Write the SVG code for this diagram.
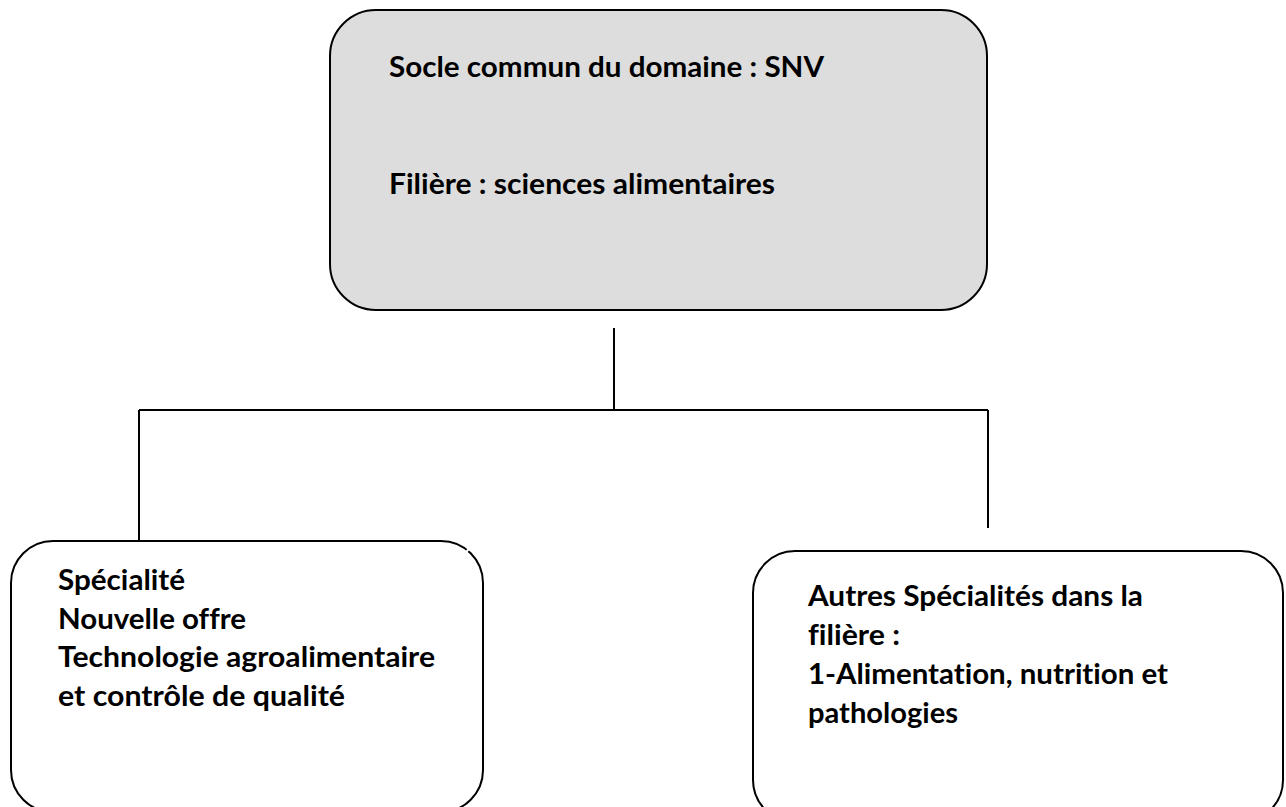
<svg xmlns="http://www.w3.org/2000/svg" width="1286" height="807" viewBox="0 0 1286 807">
<style>
.box{stroke:#000;stroke-width:2}
.t{font-family:Lato,"Open Sans","Liberation Sans",sans-serif;font-weight:700;font-size:28.5px;fill:#000;font-variant-ligatures:none}
.c{stroke:#000;stroke-width:2;fill:none}
</style>
<rect width="1286" height="807" fill="#fff"/>
<g id="connectors">
<line class="c" x1="614" y1="328" x2="614" y2="410"/>
<line class="c" x1="139" y1="410" x2="988" y2="410"/>
<line class="c" x1="139" y1="410" x2="139" y2="541"/>
<line class="c" x1="988" y1="410" x2="988" y2="528"/>
</g>
<g id="node-socle">
<rect class="box" x="330" y="10" width="657" height="300" rx="46" ry="46" fill="#dddddd"/>
<text class="t" x="389" y="77" textLength="435" lengthAdjust="spacingAndGlyphs">Socle commun du domaine : SNV</text>
<text class="t" x="389" y="194" textLength="386" lengthAdjust="spacingAndGlyphs">Filière : sciences alimentaires</text>
</g>
<g id="node-specialite">
<rect class="box" x="11" y="541" width="472" height="271" rx="42" ry="42" fill="#fff"/>
<line x1="465" y1="553.5" x2="470" y2="547.5" stroke="#fff" stroke-width="2"/>
<text class="t" x="58" y="590" textLength="127" lengthAdjust="spacingAndGlyphs">Spécialité</text>
<text class="t" x="58" y="629" textLength="188" lengthAdjust="spacingAndGlyphs">Nouvelle offre</text>
<text class="t" x="58" y="667" textLength="377" lengthAdjust="spacingAndGlyphs">Technologie agroalimentaire</text>
<text class="t" x="58" y="706" textLength="287" lengthAdjust="spacingAndGlyphs">et contrôle de qualité</text>
</g>
<g id="node-autres">
<rect class="box" x="753" y="551" width="530" height="271" rx="42" ry="42" fill="#fff"/>
<text class="t" x="808" y="606" textLength="335" lengthAdjust="spacingAndGlyphs">Autres Spécialités dans la</text>
<text class="t" x="808" y="645" textLength="92" lengthAdjust="spacingAndGlyphs">filière :</text>
<text class="t" x="808" y="684" textLength="360" lengthAdjust="spacingAndGlyphs">1-Alimentation, nutrition et</text>
<text class="t" x="808" y="723" textLength="150" lengthAdjust="spacingAndGlyphs">pathologies</text>
</g>
</svg>
